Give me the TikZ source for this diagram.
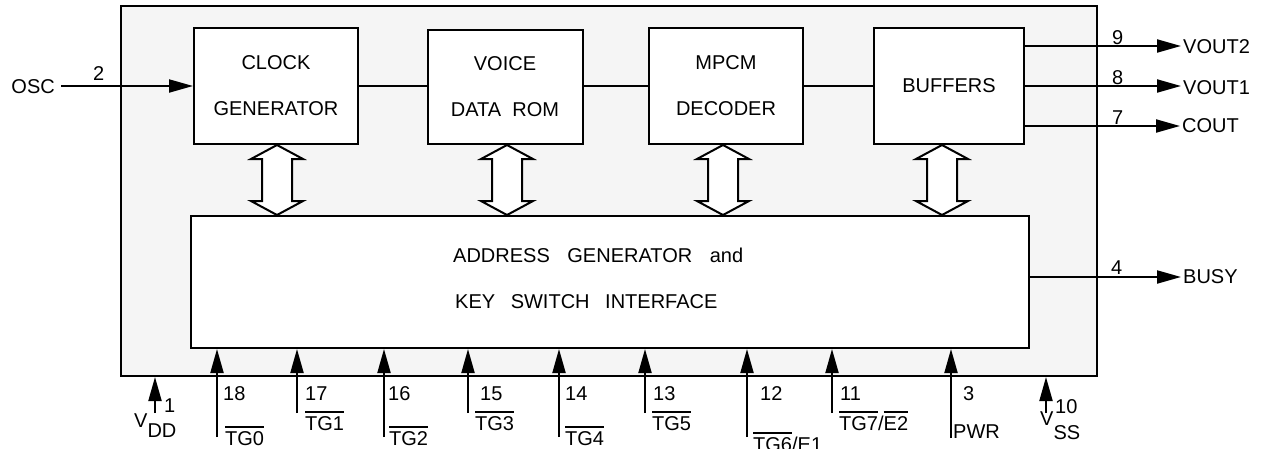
\documentclass[tikz,border=0pt]{standalone}
\usepackage{fontspec}
\setmainfont{Liberation Sans}
\usetikzlibrary{arrows.meta}
\newcommand\ovl[1]{\setbox0\hbox{#1}\rlap{\rule[\dimexpr\ht0+3pt\relax]{\wd0}{1.8pt}}\box0}
\begin{document}
\begin{tikzpicture}[x=1pt,y=-1pt,
  every node/.style={font=\fontsize{20}{24}\selectfont},
  blk/.style={draw, fill=white, line width=2pt, inner sep=0pt, align=center,
    font=\fontsize{20}{46}\selectfont},
  sig/.style={line width=2pt, -{Triangle[length=24pt,width=13pt]}},
  wire/.style={line width=2pt},
  dbl/.style={draw, fill=white, line width=2pt, line join=miter},
  lbl/.style={inner sep=0pt, anchor=base west},
  pinname/.style={inner sep=2pt, anchor=west}]
\useasboundingbox (0,0) rectangle (1264,448);
% chip outline
\node[draw, fill=black!4, line width=2pt, minimum width=976, minimum height=370, inner sep=0pt] (chip) at (609,191) {};
% blocks
\node[blk, minimum width=164, minimum height=116] (clk) at (276,86) {CLOCK\\GENERATOR};
\node[blk, minimum width=155, minimum height=114] (rom) at (505,87) {VOICE\\DATA\ \ ROM};
\node[blk, minimum width=154, minimum height=116] (dec) at (726,86) {MPCM\\DECODER};
\node[blk, minimum width=150, minimum height=116] (buf) at (949,86) {BUFFERS};
\node[blk, minimum width=838, minimum height=132] (addr) at (610,282) {};
\node[lbl] (addrA) at (453,262) {ADDRESS\hspace{12pt} GENERATOR\hspace{12pt} and};
\node[lbl] (addrB) at (455,308) {KEY\hspace{10pt} SWITCH\hspace{10pt} INTERFACE};
% internal wires
\draw[wire] (clk.east) -- (clk.east -| rom.west);
\draw[wire] (rom.east |- clk.east) -- (clk.east -| dec.west);
\draw[wire] (dec.east) -- (buf.west);
% double arrows
\foreach \b/\x in {clk/277, rom/507, dec/723, buf/942}{
  \coordinate (cx) at (\x,0);
  \coordinate (t) at (\b.south -| cx);
  \coordinate (u) at (addr.north -| cx);
  \draw[dbl] (t) -- ([shift={(26,14)}]t) -- ([shift={(15,14)}]t) -- ([shift={(15,-14)}]u)
    -- ([shift={(26,-14)}]u) -- (u) -- ([shift={(-26,-14)}]u) -- ([shift={(-15,-14)}]u)
    -- ([shift={(-15,14)}]t) -- ([shift={(-26,14)}]t) -- cycle;
}
% OSC input
\node[inner sep=0pt, anchor=east] (osc) at (55,87) {OSC};
\coordinate (oscs) at (61,86);
\draw[sig] (oscs) -- (oscs -| clk.west);
\node[lbl] (p2) at (93,80) {2};
% outputs
\node[pinname] (vout2) at (1181,47) {VOUT2};
\node[pinname] (vout1) at (1181,88) {VOUT1};
\node[pinname] (cout) at (1180,126) {COUT};
\node[pinname] (busy) at (1181,277) {BUSY};
\draw[sig] (buf.east |- 0,46) -- (vout2.west |- 0,46);
\draw[sig] (buf.east |- 0,86) -- (vout1.west |- 0,86);
\draw[sig] (buf.east |- 0,126) -- (cout.west |- 0,126);
\draw[sig] (addr.east |- 0,277) -- (busy.west |- 0,277);
\node[lbl] (p9) at (1112,44) {9};
\node[lbl] (p8) at (1112,84) {8};
\node[lbl] (p7) at (1112,124) {7};
\node[lbl] (p4) at (1111,274) {4};
% bottom pins to address generator
\foreach \n/\x/\yb/\nx/\lab/\lx/\ly in {
  18/217/437/223/{\ovl{TG0}}/225/445,
  17/297/413/305/{\ovl{TG1}}/305/430,
  16/384/437/388/{\ovl{TG2}}/389/445,
  15/468/413/480/{\ovl{TG3}}/475/430,
  14/559/437/565/{\ovl{TG4}}/565/445,
  13/645/413/653/{\ovl{TG5}}/652/430,
  12/747/437/760/{\ovl{TG6}/E1}/753/451,
  11/832/413/840/{\ovl{TG7}/\ovl{E2}}/839/430,
  3/951/438/963/{PWR}/953/438}{
  \coordinate (pin\n) at (\x,\yb);
  \draw[sig] (pin\n) -- (addr.south -| pin\n);
  \node[lbl] (num\n) at (\nx,400) {\n};
  \node[lbl] (name\n) at (\lx,\ly) {\lab};
}
% supply pins
\coordinate (vdd) at (155,413);
\draw[sig] (vdd) -- (chip.south -| vdd);
\node[lbl] (num1) at (164,412) {1};
\node[lbl] (vddl) at (134,427) {V\raisebox{-10pt}{DD}};
\coordinate (vss) at (1046,413);
\draw[sig] (vss) -- (chip.south -| vss);
\node[lbl] (num10) at (1055,413) {10};
\node[lbl] (vssl) at (1040,425) {V\raisebox{-14pt}{SS}};
\end{tikzpicture}
\end{document}
